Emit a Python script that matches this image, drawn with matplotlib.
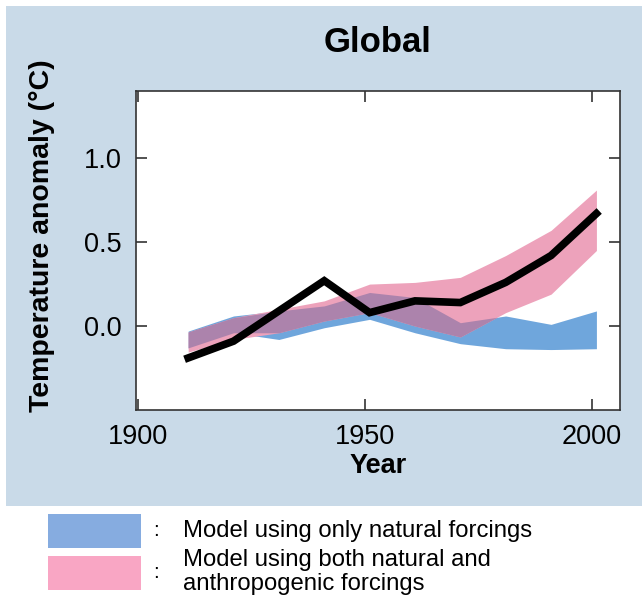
import numpy as np
import matplotlib.pyplot as plt
from matplotlib.patches import Rectangle

plt.rcParams["font.family"] = ["Liberation Sans", "DejaVu Sans"]

# decadal values
years = [1911, 1921, 1931, 1941, 1951, 1961, 1971, 1981, 1991, 2001]
observed = [-0.19, -0.09, 0.09, 0.27, 0.08, 0.15, 0.14, 0.26, 0.42, 0.67]
natural_hi = [-0.03, 0.06, 0.09, 0.12, 0.20, 0.17, 0.02, 0.06, 0.01, 0.09]
natural_lo = [-0.13, -0.04, -0.08, -0.01, 0.04, -0.04, -0.105, -0.135, -0.14, -0.135]
both_hi = [-0.035, 0.05, 0.10, 0.15, 0.25, 0.26, 0.29, 0.42, 0.57, 0.81]
both_lo = [-0.155, -0.08, -0.04, 0.03, 0.08, 0.00, -0.065, 0.08, 0.19, 0.45]

xticks = [1900, 1950, 2000]
yticks = [0.0, 0.5, 1.0]
legend_labels = ["Model using only natural forcings",
                 "Model using both natural and\nanthropogenic forcings"]

c_blue = "#6fa6dc"
c_pink = "#eda2bb"
c_overlap = "#ac83ac"
c_bg = "#c9dae8"

fig = plt.figure(figsize=(6.42, 5.99), dpi=100)
fig.patches.append(Rectangle((6 / 642, 1 - 506 / 599), 636 / 642, 500 / 599,
                             transform=fig.transFigure, facecolor=c_bg,
                             edgecolor="none", zorder=-10))

ax = fig.add_axes([136 / 642, 1 - 410 / 599, 484 / 642, 319 / 599])
x = np.array(years)
nh, nl = np.array(natural_hi), np.array(natural_lo)
bh, bl = np.array(both_hi), np.array(both_lo)
ax.fill_between(x, nl, nh, color=c_blue, lw=0)
ax.fill_between(x, bl, bh, color=c_pink, lw=0)
ov_lo = np.maximum(nl, bl)
ov_hi = np.minimum(nh, bh)
ax.fill_between(x, ov_lo, ov_hi, where=ov_hi > ov_lo, interpolate=True,
                color=c_overlap, lw=0)
ax.plot(x, observed, color="black", lw=5.5, solid_joinstyle="miter")

ax.set_xlim(1899.5, 2006.2)
ax.set_ylim(-0.5, 1.4)
ax.set_xticks(xticks)
ax.set_yticks(yticks)
ax.set_yticklabels([f"{v:.1f}" for v in yticks])
ax.tick_params(direction="in", length=8, width=1.2, color="#333333",
               top=True, right=True, labelsize=19.5, pad=10)
for s in ax.spines.values():
    s.set_color("#333333")
    s.set_linewidth(1.2)

ax.set_title("Global", fontsize=25, fontweight="bold", pad=28)
ax.set_xlabel("Year", fontsize=19.5, fontweight="bold", labelpad=2)
ax.set_ylabel("Temperature anomaly (°C)", fontsize=20.5, fontweight="bold")
ax.yaxis.set_label_coords(-0.168, 0.545)

# legend below the panel
fig.patches.append(Rectangle((48 / 642, 1 - 548 / 599), 93 / 642, 34 / 599,
                             transform=fig.transFigure, facecolor="#86ace0",
                             edgecolor="none"))
fig.patches.append(Rectangle((48 / 642, 1 - 590 / 599), 93 / 642, 34 / 599,
                             transform=fig.transFigure, facecolor="#f9a6c4",
                             edgecolor="none"))
fig.text(153 / 642, 1 - 531 / 599, ":", fontsize=15, va="center")
fig.text(153 / 642, 1 - 573 / 599, ":", fontsize=15, va="center")
fig.text(183 / 642, 1 - 531 / 599, legend_labels[0], fontsize=17.2, va="center")
fig.text(183 / 642, 1 - 572 / 599, legend_labels[1], fontsize=17.2, va="center",
         linespacing=1.1)

fig.savefig("out.png", dpi=100)
